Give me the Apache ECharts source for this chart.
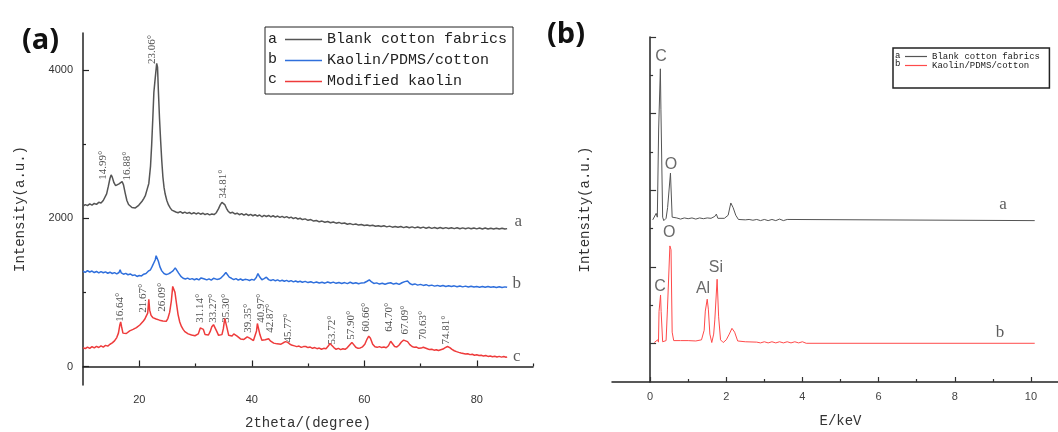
<!DOCTYPE html>
<html><head><meta charset="utf-8">
<script src="https://cdn.jsdelivr.net/npm/echarts@6/dist/echarts.min.js"></script>
<style>html,body{margin:0;padding:0;background:#fff}#c{width:1058px;height:432px}</style>
</head><body><div id="c"></div>
<script>
// ---------- (a) XRD ----------
const xrdNames = ['Blank cotton fabrics', 'Kaolin/PDMS/cotton', 'Modified kaolin'];
const xrdLetters = ['a', 'b', 'c'];
const xrdTicks = [20, 40, 60, 80];
const xrdMinorTicks = [30, 50, 70, 90];
const intensityTicks = [0, 2000, 4000];
const intensityMinorTicks = [1000, 3000];

const xrdBlank = [[10.0,2165],[10.4,2185],[10.8,2170],[11.2,2195],[11.6,2178],[12.0,2200],[12.4,2188],[12.8,2215],[13.2,2205],[13.6,2240],[13.9,2262],[14.2,2330],[14.5,2430],[14.8,2540],[15.0,2585],[15.2,2555],[15.5,2480],[15.8,2440],[16.1,2420],[16.4,2465],[16.7,2475],[16.95,2495],[17.2,2450],[17.5,2340],[17.8,2240],[18.1,2185],[18.4,2160],[18.7,2145],[19.0,2155],[19.3,2140],[19.6,2165],[19.9,2175],[20.2,2200],[20.5,2230],[20.8,2265],[21.1,2310],[21.4,2390],[21.7,2470],[22.0,2700],[22.2,2980],[22.4,3330],[22.6,3700],[22.8,3860],[22.95,3840],[23.1,4090],[23.25,4040],[23.4,3720],[23.6,3350],[23.8,3050],[24.0,2780],[24.2,2560],[24.4,2420],[24.6,2330],[24.9,2240],[25.2,2180],[25.5,2140],[25.8,2110],[26.1,2095],[26.5,2085],[26.9,2075],[27.3,2090],[27.7,2068],[28.1,2082],[28.5,2066],[28.9,2078],[29.3,2060],[29.7,2075],[30.1,2058],[30.5,2072],[30.9,2055],[31.3,2068],[31.7,2050],[32.1,2062],[32.5,2046],[32.9,2058],[33.3,2050],[33.7,2075],[34.1,2130],[34.4,2180],[34.7,2215],[34.95,2225],[35.2,2185],[35.5,2135],[35.8,2095],[36.2,2070],[36.6,2080],[37.0,2058],[37.4,2068],[37.8,2048],[38.2,2062],[38.6,2042],[39.0,2058],[39.4,2038],[39.8,2052],[40.2,2034],[40.6,2048],[41.0,2030],[41.4,2044],[41.8,2020],[42.2,2040],[42.6,2024],[43.0,2038],[43.4,2018],[43.8,2034],[44.2,2016],[44.6,2030],[45.0,2012],[45.4,2026],[45.8,2008],[46.2,2022],[46.6,2004],[47.0,2016],[47.4,1996],[47.8,2008],[48.2,1990],[48.6,2000],[49.0,1982],[49.5,1992],[50.0,1972],[50.5,1982],[51.0,1962],[51.5,1970],[52.0,1952],[52.5,1962],[53.0,1946],[53.5,1956],[54.0,1940],[54.5,1950],[55.0,1934],[55.5,1944],[56.0,1928],[56.5,1936],[57.0,1920],[57.5,1928],[58.0,1914],[58.5,1922],[59.0,1908],[59.5,1916],[60.0,1902],[60.5,1910],[61.0,1898],[61.5,1906],[62.0,1892],[62.5,1900],[63.0,1888],[63.5,1898],[64.0,1884],[64.5,1894],[65.0,1880],[65.5,1890],[66.0,1878],[66.5,1888],[67.0,1874],[67.5,1886],[68.0,1872],[68.5,1884],[69.0,1870],[69.5,1882],[70.0,1868],[70.5,1880],[71.0,1866],[71.5,1878],[72.0,1864],[72.5,1876],[73.0,1863],[73.5,1875],[74.0,1862],[74.5,1874],[75.0,1861],[75.5,1873],[76.0,1860],[76.5,1872],[77.0,1859],[77.5,1870],[78.0,1858],[78.5,1870],[79.0,1858],[79.5,1869],[80.0,1857],[80.5,1868],[81.0,1856],[81.5,1868],[82.0,1856],[82.5,1866],[83.0,1855],[83.5,1866],[84.0,1855],[84.5,1864],[85.0,1854],[85.4,1860]];

const xrdComposite = [[10.0,1285],[10.4,1270],[10.8,1292],[11.2,1275],[11.6,1288],[12.0,1268],[12.4,1282],[12.8,1262],[13.2,1280],[13.6,1265],[14.0,1276],[14.4,1258],[14.8,1272],[15.2,1255],[15.6,1266],[16.0,1250],[16.4,1268],[16.6,1305],[16.8,1262],[17.2,1245],[17.6,1256],[18.0,1238],[18.4,1248],[18.8,1228],[19.2,1236],[19.6,1215],[20.0,1228],[20.4,1222],[20.8,1245],[21.2,1255],[21.6,1285],[22.0,1305],[22.3,1350],[22.6,1400],[22.85,1440],[23.0,1495],[23.2,1470],[23.4,1420],[23.7,1340],[24.0,1290],[24.4,1255],[24.8,1240],[25.2,1250],[25.6,1268],[26.0,1290],[26.4,1330],[26.7,1318],[27.0,1260],[27.4,1215],[27.8,1190],[28.2,1180],[28.6,1192],[29.0,1175],[29.4,1186],[29.8,1170],[30.2,1184],[30.6,1168],[31.0,1195],[31.3,1205],[31.6,1180],[32.0,1168],[32.4,1182],[32.8,1166],[33.2,1190],[33.5,1200],[33.8,1175],[34.2,1180],[34.6,1200],[35.0,1230],[35.4,1268],[35.7,1250],[36.0,1205],[36.4,1190],[36.8,1172],[37.2,1186],[37.6,1165],[38.0,1180],[38.4,1164],[38.8,1176],[39.2,1172],[39.6,1160],[40.0,1175],[40.4,1165],[40.8,1200],[41.1,1255],[41.4,1210],[41.8,1170],[42.2,1185],[42.6,1205],[43.0,1172],[43.4,1160],[43.8,1172],[44.2,1156],[44.6,1168],[45.0,1152],[45.4,1164],[45.8,1150],[46.2,1162],[46.6,1146],[47.0,1158],[47.4,1142],[47.8,1154],[48.2,1140],[48.6,1150],[49.0,1136],[49.5,1148],[50.0,1132],[50.5,1144],[51.0,1128],[51.5,1140],[52.0,1126],[52.5,1136],[53.0,1124],[53.5,1140],[54.0,1126],[54.5,1138],[55.0,1122],[55.5,1134],[56.0,1120],[56.5,1132],[57.0,1118],[57.5,1136],[58.0,1120],[58.5,1130],[59.0,1116],[59.5,1128],[60.0,1130],[60.5,1150],[60.9,1168],[61.3,1140],[61.7,1120],[62.2,1128],[62.7,1112],[63.2,1124],[63.7,1110],[64.2,1122],[64.7,1130],[65.2,1112],[65.7,1122],[66.2,1108],[66.7,1130],[67.2,1145],[67.7,1152],[68.1,1120],[68.5,1104],[69.0,1114],[69.5,1098],[70.0,1108],[70.5,1094],[71.0,1104],[71.5,1088],[72.0,1098],[72.5,1084],[73.0,1094],[73.5,1082],[74.0,1092],[74.5,1080],[75.0,1090],[75.5,1078],[76.0,1088],[76.5,1076],[77.0,1086],[77.5,1074],[78.0,1084],[78.5,1072],[79.0,1082],[79.5,1072],[80.0,1080],[80.5,1070],[81.0,1080],[81.5,1068],[82.0,1078],[82.5,1068],[83.0,1076],[83.5,1066],[84.0,1076],[84.5,1066],[85.0,1074],[85.4,1068]];

const xrdKaolin = [[10.0,255],[10.4,240],[10.8,262],[11.2,245],[11.6,268],[12.0,250],[12.4,272],[12.8,256],[13.2,278],[13.6,262],[14.0,285],[14.4,275],[14.8,300],[15.2,318],[15.6,345],[16.0,390],[16.3,450],[16.55,560],[16.7,600],[16.85,540],[17.1,450],[17.4,430],[17.7,445],[18.0,462],[18.3,480],[18.6,470],[18.9,500],[19.2,495],[19.5,525],[19.8,520],[20.1,560],[20.4,575],[20.7,610],[21.0,640],[21.3,690],[21.5,720],[21.7,905],[21.85,760],[22.1,690],[22.4,660],[22.7,675],[23.0,640],[23.3,655],[23.6,625],[23.9,640],[24.2,615],[24.5,600],[24.8,610],[25.1,650],[25.4,730],[25.7,880],[25.95,1080],[26.15,1060],[26.35,1000],[26.6,860],[26.9,700],[27.2,600],[27.5,540],[27.8,500],[28.1,470],[28.4,455],[28.7,440],[29.0,445],[29.3,425],[29.6,432],[29.9,415],[30.2,420],[30.5,440],[30.85,520],[31.1,545],[31.4,500],[31.7,430],[32.0,410],[32.3,425],[32.6,470],[32.9,535],[33.2,565],[33.5,540],[33.8,470],[34.1,420],[34.4,410],[34.7,430],[34.95,510],[35.2,650],[35.4,660],[35.6,520],[35.9,420],[36.2,395],[36.5,410],[36.8,440],[37.1,445],[37.4,410],[37.7,385],[38.0,372],[38.3,380],[38.6,365],[38.9,375],[39.2,400],[39.45,420],[39.7,380],[40.0,355],[40.3,350],[40.6,370],[40.85,480],[41.0,580],[41.2,560],[41.45,430],[41.8,355],[42.1,345],[42.4,360],[42.7,385],[43.0,375],[43.3,345],[43.6,330],[43.9,315],[44.2,322],[44.5,305],[44.8,315],[45.2,300],[45.6,320],[46.0,335],[46.4,325],[46.8,300],[47.2,285],[47.6,278],[48.0,268],[48.4,275],[48.8,258],[49.2,268],[49.6,270],[50.0,255],[50.4,262],[50.8,245],[51.2,255],[51.6,240],[52.0,248],[52.4,232],[52.8,245],[53.2,240],[53.6,275],[53.9,310],[54.2,290],[54.6,255],[55.0,232],[55.4,245],[55.8,228],[56.2,240],[56.6,232],[57.0,255],[57.4,290],[57.8,325],[58.1,300],[58.5,260],[58.9,245],[59.3,250],[59.7,265],[60.1,300],[60.5,370],[60.8,410],[61.1,380],[61.5,300],[61.9,265],[62.3,258],[62.7,268],[63.1,255],[63.5,262],[63.9,252],[64.3,280],[64.7,340],[65.0,310],[65.4,270],[65.8,262],[66.2,290],[66.6,330],[67.0,355],[67.3,360],[67.7,335],[68.1,295],[68.5,270],[68.9,258],[69.3,262],[69.7,245],[70.1,248],[70.5,260],[70.8,268],[71.2,240],[71.6,228],[72.0,232],[72.4,220],[72.8,226],[73.2,215],[73.6,225],[74.0,235],[74.4,255],[74.8,270],[75.2,255],[75.6,230],[76.0,212],[76.4,200],[76.8,190],[77.2,182],[77.6,175],[78.0,168],[78.4,172],[78.8,160],[79.2,165],[79.6,152],[80.0,158],[80.4,148],[80.8,152],[81.2,140],[81.6,148],[82.0,136],[82.4,142],[82.8,132],[83.2,138],[83.6,128],[84.0,136],[84.4,126],[84.8,134],[85.2,124],[85.4,130]];

// peak labels: [2theta anchor, intensity at label foot, text]
const xrdPeakLabels = [[13.6,2520,'14.99°'],[17.8,2510,'16.88°'],[22.25,4080,'23.06°'],[34.93,2268,'34.81°'],
  [16.6,604,'16.64°'],[20.7,725,'21.67°'],[24.0,738,'26.09°'],[30.9,590,'31.14°'],[33.1,590,'33.27°'],[35.4,590,'35.30°'],
  [39.3,456,'39.35°'],[41.6,590,'40.97°'],[43.2,456,'42.87°'],[46.4,322,'45.77°'],[54.2,295,'53.72°'],[57.7,362,'57.90°'],
  [60.4,470,'60.66°'],[64.5,470,'64.70°'],[67.2,430,'67.09°'],[70.5,362,'70.63°'],[74.6,295,'74.81°']];
const xrdCurveLetters = [[87.4,1950,'a'],[87.1,1114,'b'],[87.1,138,'c']];

// ---------- (b) EDS ----------
const edsNames = ['Blank cotton fabrics ', 'Kaolin/PDMS/cotton '];
const edsLetters = ['a', 'b'];
const edsTicks = [0, 2, 4, 6, 8, 10];
const edsMinorTicks = [1, 3, 5, 7, 9];
const edsYTicks = [1, 3, 5, 7, 9];
const edsYMinorTicks = [2, 4, 6, 8];

const edsBlank = [[0.07,4.23],[0.12,4.26],[0.16,4.40],[0.19,4.30],[0.21,4.26],[0.225,6.6],[0.245,6.6],[0.27,8.17],[0.285,7.1],[0.315,7.1],[0.33,4.3],[0.36,4.21],[0.42,4.27],[0.46,4.55],[0.50,4.5],[0.535,5.45],[0.56,5.45],[0.58,4.3],[0.62,4.26],[0.7,4.28],[0.8,4.25],[0.9,4.28],[1.0,4.26],[1.1,4.28],[1.2,4.25],[1.3,4.28],[1.4,4.26],[1.5,4.28],[1.6,4.27],[1.7,4.32],[1.74,4.38],[1.78,4.27],[1.95,4.27],[2.05,4.35],[2.12,4.67],[2.18,4.55],[2.25,4.35],[2.32,4.24],[2.5,4.23],[2.6,4.24],[2.7,4.22],[2.8,4.24],[2.9,4.21],[3.0,4.24],[3.1,4.21],[3.2,4.24],[3.3,4.21],[3.4,4.25],[3.5,4.21],[3.6,4.24],[3.65,4.21],[10.1,4.21]];
const edsComposite = [[0.11,1.03],[0.16,1.06],[0.2,1.1],[0.22,1.04],[0.235,1.84],[0.255,1.84],[0.275,2.27],[0.29,1.84],[0.31,1.84],[0.33,1.05],[0.37,1.03],[0.42,1.08],[0.455,1.88],[0.48,1.88],[0.52,3.55],[0.55,3.45],[0.58,1.3],[0.62,1.08],[0.8,1.08],[1.0,1.08],[1.2,1.07],[1.35,1.1],[1.42,1.35],[1.45,1.85],[1.5,2.16],[1.53,1.9],[1.57,1.25],[1.62,1.03],[1.67,1.25],[1.7,1.62],[1.76,2.68],[1.8,1.7],[1.85,1.1],[1.92,1.03],[2.0,1.1],[2.08,1.25],[2.15,1.40],[2.22,1.3],[2.3,1.07],[2.5,1.05],[2.8,1.04],[2.9,1.02],[3.0,1.05],[3.1,1.02],[3.2,1.05],[3.3,1.02],[3.4,1.05],[3.5,1.02],[3.6,1.05],[3.7,1.02],[3.8,1.05],[3.9,1.02],[4.0,1.05],[4.1,1.01],[10.1,1.01]];
const edsElementLabels = [[0.29,8.49,'C'],[0.55,5.67,'O'],[0.50,3.89,'O'],[0.26,2.48,'C'],[1.39,2.43,'Al'],[1.73,2.98,'Si']];
const edsCurveLetters = [[9.27,4.62,'a'],[9.19,1.28,'b']];

const xrdColors = ['#555555', '#2f6fdc', '#ee3b3b'];
const edsColors = ['#555555', '#ff4a4a'];
const serif = 'Liberation Mono';

const axisLineStyle = {show: true, lineStyle: {color: '#222', width: 1.5}};
function tickAxis(extra) {
  return Object.assign({type: 'value', splitLine: {show: false}, axisLine: axisLineStyle}, extra);
}
const plain = v => String(v);

const chart = echarts.init(document.getElementById('c'));
const option = {
  animation: false,
  backgroundColor: '#fff',
  grid: [
    {left: 83, right: 525, top: 33, bottom: 47, containLabel: false, outerBoundsMode: 'none'},
    {left: 612, right: -11, top: 37, bottom: 50, containLabel: false, outerBoundsMode: 'none'}
  ],
  xAxis: [
    tickAxis({gridIndex: 0, position: 'bottom', min: 10, max: 90,
      name: '2theta/(degree)', nameLocation: 'middle', nameGap: 31,
      nameTextStyle: {fontFamily: serif, fontSize: 14, color: '#333'},
      axisTick: {inside: true, length: 6, customValues: xrdTicks, lineStyle: {color: '#222', width: 1.2}},
      axisLabel: {customValues: xrdTicks, formatter: plain, margin: 9, fontFamily: 'Liberation Sans', fontSize: 11, color: '#333'}}),
    tickAxis({gridIndex: 0, position: 'bottom', min: 10, max: 90, axisLine: {show: false},
      axisTick: {inside: true, length: 3, customValues: xrdMinorTicks, lineStyle: {color: '#222', width: 1.2}},
      axisLabel: {show: false}}),
    tickAxis({gridIndex: 1, position: 'bottom', min: -1, max: 11,
      name: 'E/keV', nameLocation: 'middle', nameGap: 32,
      nameTextStyle: {fontFamily: serif, fontSize: 14, color: '#333'},
      axisTick: {inside: true, length: 5, customValues: edsTicks, lineStyle: {color: '#333', width: 1.2}},
      axisLabel: {customValues: edsTicks, formatter: plain, margin: 9, fontFamily: 'Liberation Sans', fontSize: 11, color: '#444'}}),
    tickAxis({gridIndex: 1, position: 'bottom', min: -1, max: 11, axisLine: {show: false},
      axisTick: {inside: true, length: 3, customValues: edsMinorTicks, lineStyle: {color: '#333', width: 1.2}},
      axisLabel: {show: false}})
  ],
  yAxis: [
    tickAxis({gridIndex: 0, position: 'left', min: -250, max: 4500,
      name: 'Intensity(a.u.)', nameLocation: 'middle', nameGap: 56,
      nameTextStyle: {fontFamily: serif, fontSize: 14, color: '#333'},
      axisTick: {inside: true, length: 6, customValues: intensityTicks, lineStyle: {color: '#222', width: 1.2}},
      axisLabel: {customValues: intensityTicks, formatter: plain, margin: 10, fontFamily: 'Liberation Sans', fontSize: 11, color: '#333'}}),
    tickAxis({gridIndex: 0, position: 'left', min: -250, max: 4500, axisLine: {show: false},
      axisTick: {inside: true, length: 3, customValues: intensityMinorTicks, lineStyle: {color: '#222', width: 1.2}},
      axisLabel: {show: false}}),
    tickAxis({gridIndex: 1, position: 'left', min: 0, max: 9,
      name: 'Intensity(a.u.)', nameLocation: 'middle', nameGap: 20,
      nameTextStyle: {fontFamily: serif, fontSize: 14, color: '#333'},
      axisTick: {inside: true, length: 6, customValues: edsYTicks, lineStyle: {color: '#333', width: 1.2}},
      axisLabel: {show: false}}),
    tickAxis({gridIndex: 1, position: 'left', min: 0, max: 9, axisLine: {show: false},
      axisTick: {inside: true, length: 3, customValues: edsYMinorTicks, lineStyle: {color: '#333', width: 1.2}},
      axisLabel: {show: false}})
  ],
  legend: [
    {orient: 'vertical', left: 265, top: 27, data: xrdNames, icon: 'rect',
      borderColor: '#222', borderWidth: 1, padding: [5, 6, 5, 20], itemGap: 6,
      itemWidth: 37, itemHeight: 1.6, selectedMode: false,
      textStyle: {fontFamily: serif, fontSize: 15, lineHeight: 14, color: '#222'}},
    {orient: 'vertical', left: 893, top: 48, data: edsNames, icon: 'rect',
      borderColor: '#222', borderWidth: 1.5, padding: [4, 4, 18, 12], itemGap: 0,
      itemWidth: 22, itemHeight: 1.2, selectedMode: false,
      textStyle: {fontFamily: serif, fontSize: 9, lineHeight: 8, color: '#222'}}
  ],
  graphic: [
    {type: 'text', left: 22, top: 26, style: {text: '(a)', font: 'bold 29px "Open Sans"', fill: '#111'}},
    {type: 'text', left: 547, top: 20, style: {text: '(b)', font: 'bold 29px "Open Sans"', fill: '#111'}},
    {type: 'text', x: 268, y: 39, style: {text: xrdLetters[0], font: '15px "Liberation Mono"', fill: '#222', verticalAlign: 'middle'}},
    {type: 'text', x: 268, y: 59, style: {text: xrdLetters[1], font: '15px "Liberation Mono"', fill: '#222', verticalAlign: 'middle'}},
    {type: 'text', x: 268, y: 79, style: {text: xrdLetters[2], font: '15px "Liberation Mono"', fill: '#222', verticalAlign: 'middle'}},
    {type: 'text', x: 895, y: 56, style: {text: edsLetters[0], font: '9px "Liberation Mono"', fill: '#222', verticalAlign: 'middle'}},
    {type: 'text', x: 895, y: 64, style: {text: edsLetters[1], font: '9px "Liberation Mono"', fill: '#222', verticalAlign: 'middle'}}
  ],
  series: [
    {name: xrdNames[0], type: 'line', xAxisIndex: 0, yAxisIndex: 0, data: xrdBlank, showSymbol: false, symbol: 'none',
      lineStyle: {color: xrdColors[0], width: 1.5}, itemStyle: {color: xrdColors[0]}},
    {name: xrdNames[1], type: 'line', xAxisIndex: 0, yAxisIndex: 0, data: xrdComposite, showSymbol: false, symbol: 'none',
      lineStyle: {color: xrdColors[1], width: 1.5}, itemStyle: {color: xrdColors[1]}},
    {name: xrdNames[2], type: 'line', xAxisIndex: 0, yAxisIndex: 0, data: xrdKaolin, showSymbol: false, symbol: 'none',
      lineStyle: {color: xrdColors[2], width: 1.5}, itemStyle: {color: xrdColors[2]}},
    {type: 'scatter', xAxisIndex: 0, yAxisIndex: 0, data: xrdPeakLabels, symbolSize: 0, silent: true,
      label: {show: true, position: 'inside', rotate: 90, align: 'left', verticalAlign: 'middle',
        formatter: p => p.value[2], fontFamily: 'Liberation Serif', fontSize: 11, color: '#222'}},
    {type: 'scatter', xAxisIndex: 0, yAxisIndex: 0, data: xrdCurveLetters, symbolSize: 0, silent: true,
      label: {show: true, position: 'inside', formatter: p => p.value[2], fontFamily: 'Liberation Serif', fontSize: 17, color: '#333'}},
    {name: edsNames[0], type: 'line', xAxisIndex: 2, yAxisIndex: 2, data: edsBlank, showSymbol: false, symbol: 'none',
      lineStyle: {color: edsColors[0], width: 1}, itemStyle: {color: edsColors[0]}},
    {name: edsNames[1], type: 'line', xAxisIndex: 2, yAxisIndex: 2, data: edsComposite, showSymbol: false, symbol: 'none',
      lineStyle: {color: edsColors[1], width: 1}, itemStyle: {color: edsColors[1]}},
    {type: 'scatter', xAxisIndex: 2, yAxisIndex: 2, data: edsElementLabels, symbolSize: 0, silent: true,
      label: {show: true, position: 'inside', formatter: p => p.value[2], fontFamily: 'Liberation Sans', fontSize: 16, color: '#444'}},
    {type: 'scatter', xAxisIndex: 2, yAxisIndex: 2, data: edsCurveLetters, symbolSize: 0, silent: true,
      label: {show: true, position: 'inside', formatter: p => p.value[2], fontFamily: 'Liberation Serif', fontSize: 17, color: '#333'}}
  ]
};
chart.setOption(option);
</script>
</body></html>
